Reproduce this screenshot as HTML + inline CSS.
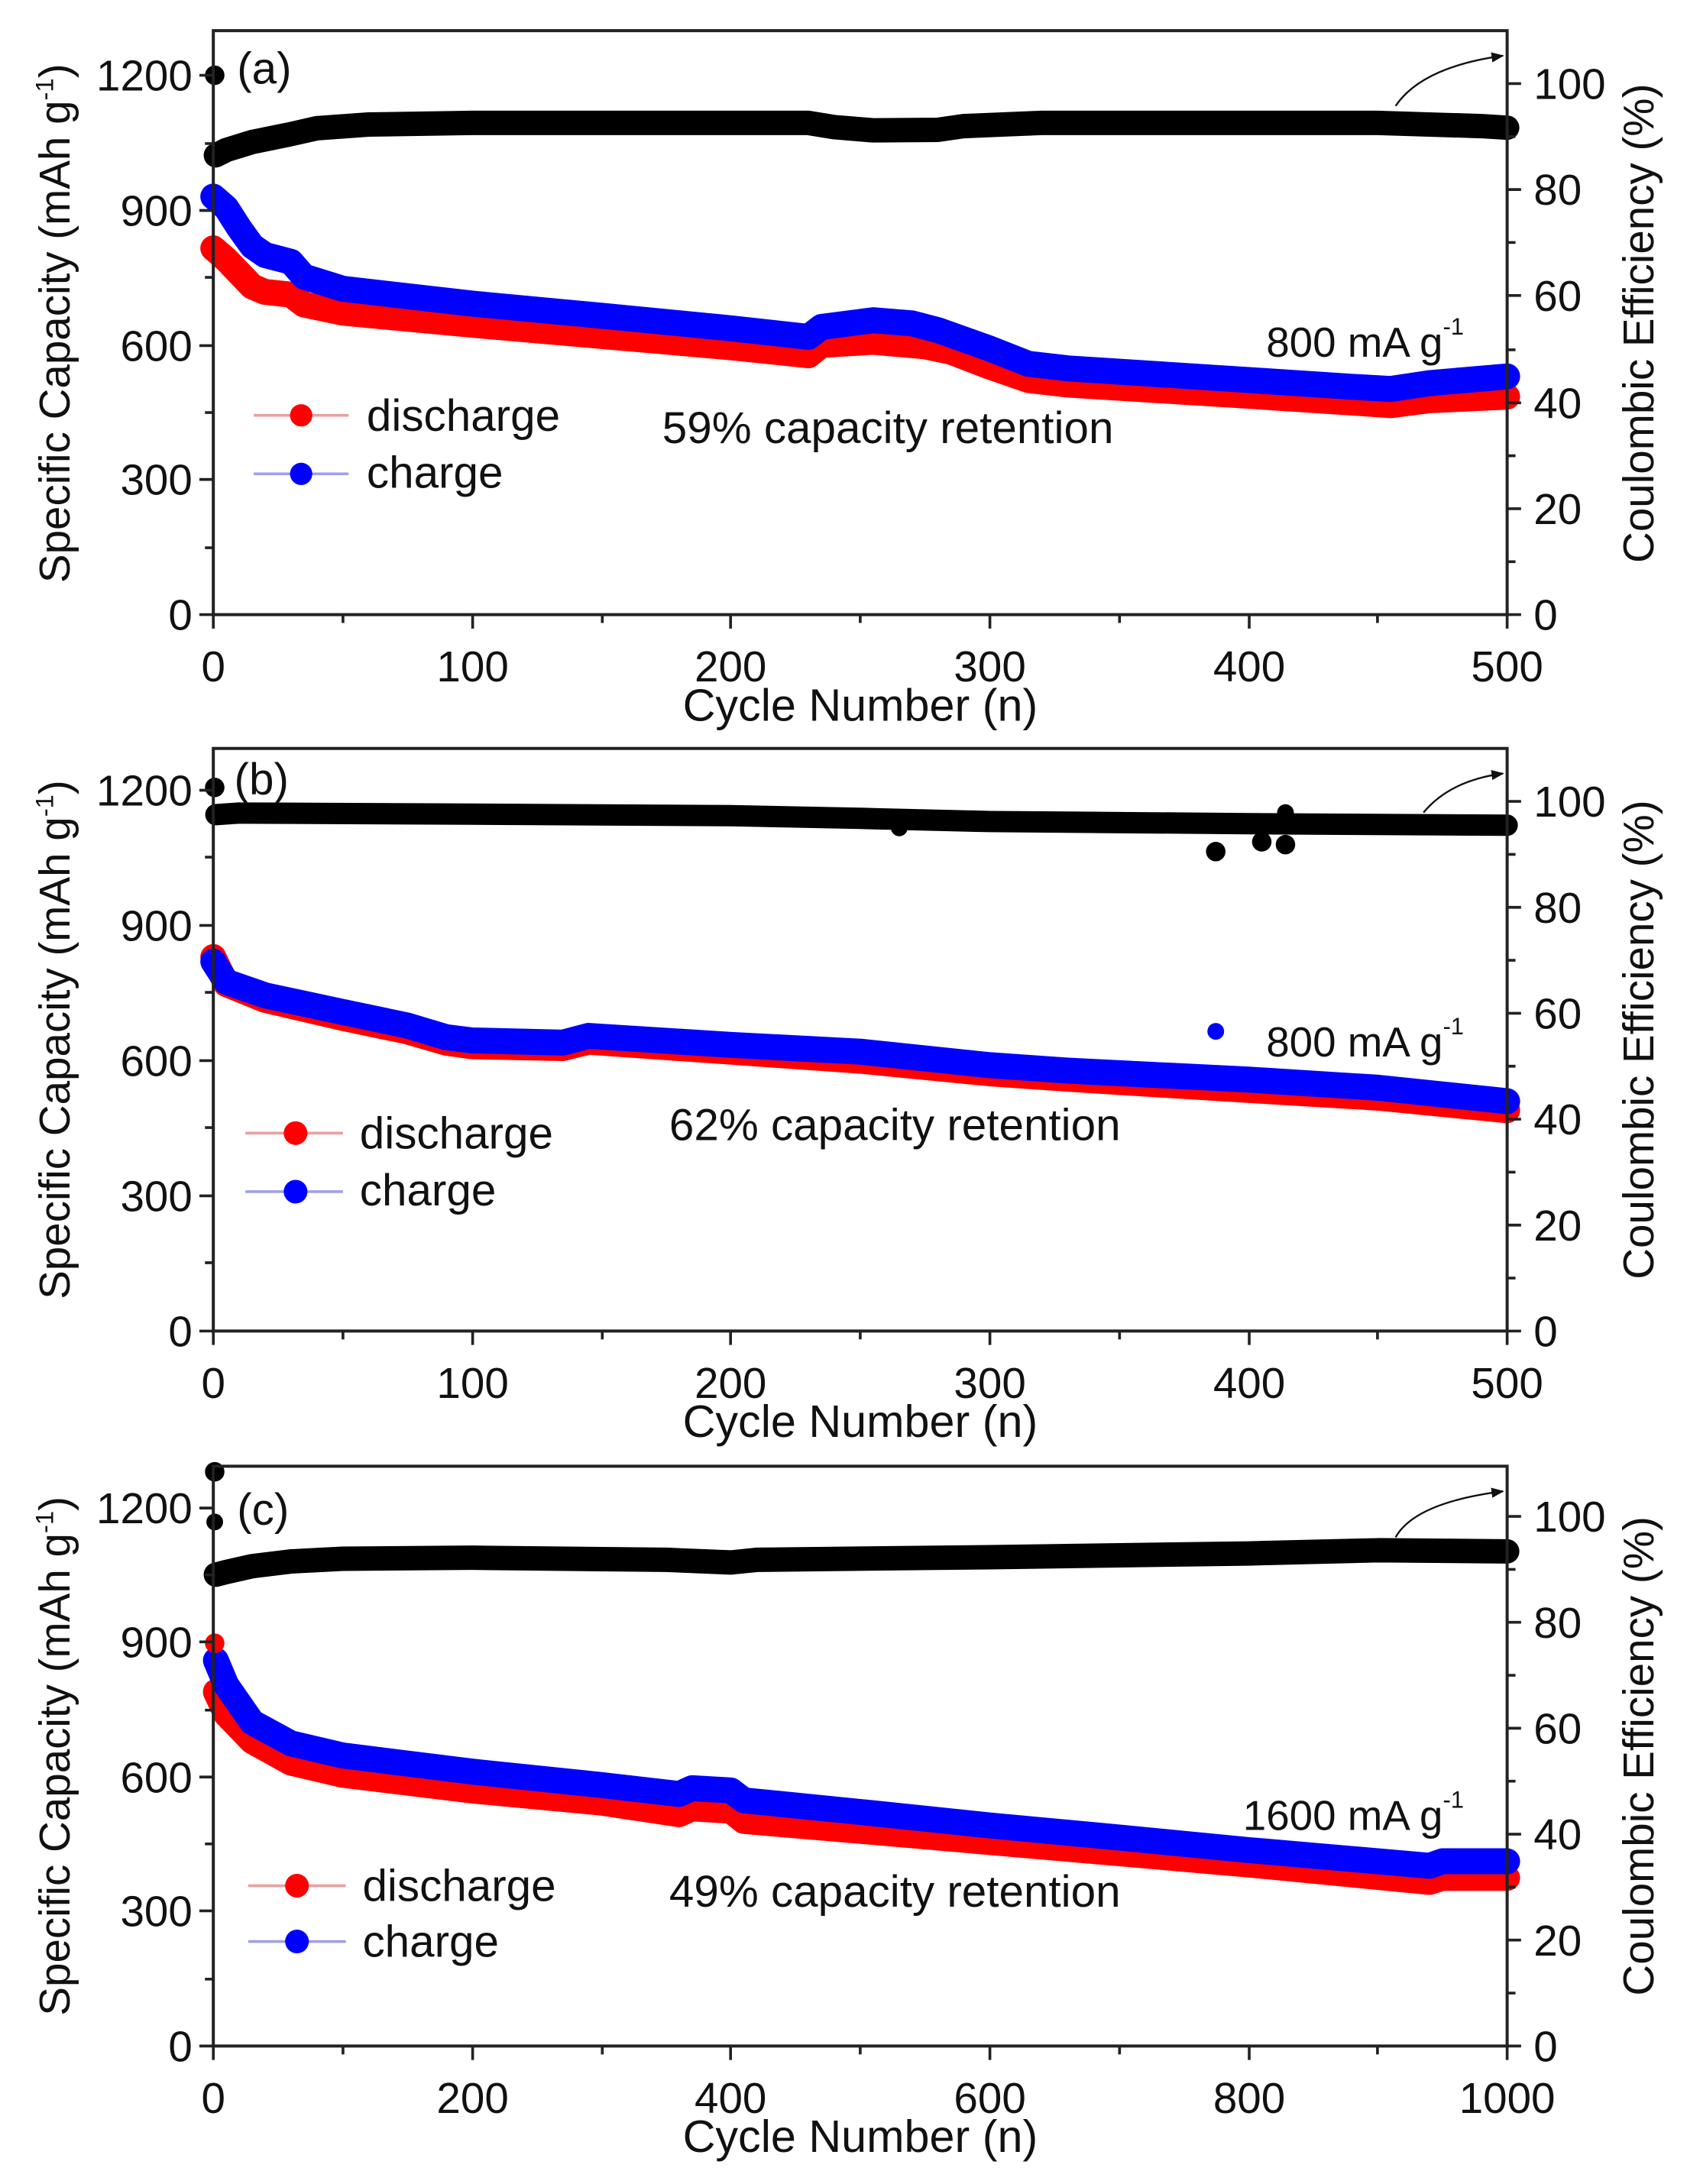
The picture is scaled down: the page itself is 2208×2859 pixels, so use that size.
<!DOCTYPE html>
<html><head><meta charset="utf-8"><style>
html,body{margin:0;padding:0;background:#fff}
svg{display:block}
text{font-family:"Liberation Sans",Arial,sans-serif;fill:#111}
.n{vector-effect:non-scaling-stroke;fill:none;stroke-linejoin:round;stroke-linecap:round}
</style></head><body>
<svg width="2208" height="2859" viewBox="0 0 1210 1567" preserveAspectRatio="none" xmlns="http://www.w3.org/2000/svg">
<defs>
<marker id="ar" viewBox="0 0 10 10" refX="9" refY="5" markerWidth="7" markerHeight="7" orient="auto"><path d="M0,1 L10,5 L0,9 z" fill="#111"/></marker>
</defs>

<!-- ================= PANEL A ================= -->
<g>
<g transform="translate(153,441) scale(1.856,-0.3225)">
<polyline class="n" stroke="#f00" stroke-width="34" points="0,815 5,790 10,760 15,730 20,718 30,712 35,690 50,672 100,645 150,620 200,595 230,577 235,600 255,607 275,597 285,585 300,552 315,522 330,512 400,487 440,472 455,466 470,477 500,485"/>
<polyline class="n" stroke="#00f" stroke-width="34" points="0,930 5,905 10,860 15,820 20,800 30,785 35,752 50,725 100,692 150,665 200,637 230,618 235,640 255,655 270,648 280,633 300,592 315,558 330,548 400,522 440,507 455,502 470,515 500,530"/>
</g>
<g transform="translate(153,441) scale(1.856,-3.81)">
<polyline class="n" stroke="#000" stroke-width="32" points="1,86.5 5,87.5 15,89 30,90.5 40,91.6 60,92.3 100,92.6 230,92.6 240,91.8 255,91.2 280,91.3 290,92 320,92.6 450,92.6 490,92 500,91.7"/>
</g>
<circle cx="154" cy="54" r="7" fill="#000"/>
<rect x="153" y="22" width="928" height="419" fill="none" stroke="#222" stroke-width="2.2"/>
<path d="M1001,76 Q1020,48 1078,40" stroke="#111" stroke-width="1.3" fill="none" marker-end="url(#ar)"/>
<text x="170" y="60" font-size="32">(a)</text>
<line x1="182" y1="298" x2="250" y2="298" stroke="#e8a0a0" stroke-width="2"/><circle cx="216" cy="298" r="8" fill="#f00"/>
<text x="263" y="309" font-size="32">discharge</text>
<line x1="182" y1="340" x2="250" y2="340" stroke="#a0a0e8" stroke-width="2"/><circle cx="216" cy="340" r="8" fill="#00f"/>
<text x="263" y="350" font-size="32">charge</text>
<text x="475" y="318" font-size="32">59% capacity retention</text>
<text x="1050" y="256" font-size="30" text-anchor="end">800 mA g<tspan font-size="17" dy="-16">-1</tspan></text>
</g>

<!-- ================= PANEL B ================= -->
<g>
<g transform="translate(153,955) scale(1.856,-0.3233)">
<polyline class="n" stroke="#f00" stroke-width="34" points="0,830 5,770 20,735 50,695 75,665 90,640 100,632 135,628 145,642 200,620 250,600 300,572 330,560 400,535 450,518 500,490"/>
<polyline class="n" stroke="#00f" stroke-width="34" points="0,820 5,775 20,745 50,708 75,678 90,652 100,645 135,640 145,655 200,635 250,620 300,590 330,578 400,558 450,540 500,510"/>
</g>
<g transform="translate(153,955) scale(1.856,-3.8)">
<polyline class="n" stroke="#000" stroke-width="28" points="1,97.5 10,97.8 100,97.6 200,97.3 250,96.8 300,96.2 400,95.8 500,95.5"/>
</g>
<circle cx="154" cy="565" r="7" fill="#000"/><circle cx="154" cy="585" r="6" fill="#000"/>
<circle cx="645" cy="594" r="6" fill="#000"/><circle cx="872" cy="611" r="7" fill="#000"/>
<circle cx="905" cy="604" r="7" fill="#000"/><circle cx="922" cy="606" r="7" fill="#000"/><circle cx="922" cy="583" r="6" fill="#000"/>
<circle cx="872" cy="740" r="6" fill="#00f"/>
<rect x="153" y="537" width="928" height="418" fill="none" stroke="#222" stroke-width="2.2"/>
<path d="M1021,583 Q1040,560 1078,555" stroke="#111" stroke-width="1.3" fill="none" marker-end="url(#ar)"/>
<text x="168" y="570" font-size="32">(b)</text>
<line x1="176" y1="813" x2="246" y2="813" stroke="#e8a0a0" stroke-width="2"/><circle cx="212" cy="813" r="8.5" fill="#f00"/>
<text x="258" y="824" font-size="32">discharge</text>
<line x1="176" y1="855" x2="246" y2="855" stroke="#a0a0e8" stroke-width="2"/><circle cx="212" cy="855" r="8.5" fill="#00f"/>
<text x="258" y="865" font-size="32">charge</text>
<text x="480" y="818" font-size="32">62% capacity retention</text>
<text x="1050" y="758" font-size="30" text-anchor="end">800 mA g<tspan font-size="17" dy="-16">-1</tspan></text>
</g>

<!-- ================= PANEL C ================= -->
<g>
<g transform="translate(153,1468) scale(0.928,-0.3217)">
<polyline class="n" stroke="#f00" stroke-width="34" points="2,790 10,740 30,680 60,632 100,605 200,570 300,543 360,517 370,530 400,525 410,502 500,480 600,455 700,430 800,405 940,366 950,375 1000,375"/>
<polyline class="n" stroke="#00f" stroke-width="34" points="2,860 10,805 30,722 60,675 100,648 200,612 300,582 360,562 370,575 400,570 410,548 500,522 600,492 700,465 800,437 940,402 950,412 1000,412"/>
</g>
<g transform="translate(153,1468) scale(0.928,-3.8)">
<polyline class="n" stroke="#000" stroke-width="32" points="2,89 10,89.5 30,90.6 60,91.5 100,92 200,92.2 350,91.8 400,91.3 420,91.8 600,92.3 800,93 900,93.6 1000,93.4"/>
</g>
<circle cx="154" cy="1056" r="7" fill="#000"/><circle cx="154" cy="1092" r="6" fill="#000"/>
<circle cx="154" cy="1179" r="7" fill="#f00"/>
<rect x="153" y="1052" width="928" height="416" fill="none" stroke="#222" stroke-width="2.2"/>
<path d="M1001,1103 Q1015,1078 1078,1070" stroke="#111" stroke-width="1.3" fill="none" marker-end="url(#ar)"/>
<text x="170" y="1094" font-size="32">(c)</text>
<line x1="178" y1="1353" x2="248" y2="1353" stroke="#e8a0a0" stroke-width="2"/><circle cx="213" cy="1353" r="8.5" fill="#f00"/>
<text x="260" y="1364" font-size="32">discharge</text>
<line x1="178" y1="1393" x2="248" y2="1393" stroke="#a0a0e8" stroke-width="2"/><circle cx="213" cy="1393" r="8.5" fill="#00f"/>
<text x="260" y="1404" font-size="32">charge</text>
<text x="480" y="1368" font-size="32">49% capacity retention</text>
<text x="1050" y="1313" font-size="30" text-anchor="end">1600 mA g<tspan font-size="17" dy="-16">-1</tspan></text>
</g>

<!-- ================= AXES / TICKS ================= -->
<g stroke="#222" stroke-width="2">
<path d="M153,441v10M339,441v10M524,441v10M710,441v10M896,441v10M1081,441v10 M246,441v6M432,441v6M617,441v6M803,441v6M988,441v6"/>
<path d="M153,441h-10M153,344h-10M153,248h-10M153,151h-10M153,54h-10 M153,393h-6M153,296h-6M153,199h-6M153,103h-6"/>
<path d="M1081,441h10M1081,365h10M1081,289h10M1081,212h10M1081,136h10M1081,60h10 M1081,403h6M1081,327h6M1081,251h6M1081,174h6M1081,98h6"/>
<path d="M153,955v10M339,955v10M524,955v10M710,955v10M896,955v10M1081,955v10 M246,955v6M432,955v6M617,955v6M803,955v6M988,955v6"/>
<path d="M153,955h-10M153,858h-10M153,761h-10M153,664h-10M153,567h-10 M153,906h-6M153,809h-6M153,712h-6M153,615h-6"/>
<path d="M1081,955h10M1081,879h10M1081,803h10M1081,727h10M1081,651h10M1081,575h10 M1081,917h6M1081,841h6M1081,765h6M1081,689h6M1081,613h6"/>
<path d="M153,1468v10M339,1468v10M524,1468v10M710,1468v10M896,1468v10M1081,1468v10 M246,1468v6M432,1468v6M617,1468v6M803,1468v6M988,1468v6"/>
<path d="M153,1468h-10M153,1371h-10M153,1275h-10M153,1178h-10M153,1082h-10 M153,1420h-6M153,1323h-6M153,1227h-6M153,1130h-6"/>
<path d="M1081,1468h10M1081,1392h10M1081,1316h10M1081,1240h10M1081,1164h10M1081,1088h10 M1081,1430h6M1081,1354h6M1081,1278h6M1081,1202h6M1081,1126h6"/>
</g>

<g font-size="31">
<g text-anchor="middle"><text x="153" y="489">0</text><text x="339" y="489">100</text><text x="524" y="489">200</text><text x="710" y="489">300</text><text x="896" y="489">400</text><text x="1081" y="489">500</text></g>
<text x="617" y="517" text-anchor="middle" font-size="32.5">Cycle Number (n)</text>
<g text-anchor="end"><text x="138" y="452">0</text><text x="138" y="355">300</text><text x="138" y="259">600</text><text x="138" y="162">900</text><text x="138" y="65">1200</text></g>
<g><text x="1100" y="452">0</text><text x="1100" y="376">20</text><text x="1100" y="300">40</text><text x="1100" y="223">60</text><text x="1100" y="147">80</text><text x="1100" y="71">100</text></g>
<g text-anchor="middle"><text x="153" y="1003">0</text><text x="339" y="1003">100</text><text x="524" y="1003">200</text><text x="710" y="1003">300</text><text x="896" y="1003">400</text><text x="1081" y="1003">500</text></g>
<text x="617" y="1031" text-anchor="middle" font-size="32.5">Cycle Number (n)</text>
<g text-anchor="end"><text x="138" y="966">0</text><text x="138" y="869">300</text><text x="138" y="772">600</text><text x="138" y="675">900</text><text x="138" y="578">1200</text></g>
<g><text x="1100" y="966">0</text><text x="1100" y="890">20</text><text x="1100" y="814">40</text><text x="1100" y="738">60</text><text x="1100" y="662">80</text><text x="1100" y="586">100</text></g>
<g text-anchor="middle"><text x="153" y="1516">0</text><text x="339" y="1516">200</text><text x="524" y="1516">400</text><text x="710" y="1516">600</text><text x="896" y="1516">800</text><text x="1081" y="1516">1000</text></g>
<text x="617" y="1544" text-anchor="middle" font-size="32.5">Cycle Number (n)</text>
<g text-anchor="end"><text x="138" y="1479">0</text><text x="138" y="1382">300</text><text x="138" y="1286">600</text><text x="138" y="1189">900</text><text x="138" y="1093">1200</text></g>
<g><text x="1100" y="1479">0</text><text x="1100" y="1403">20</text><text x="1100" y="1327">40</text><text x="1100" y="1251">60</text><text x="1100" y="1175">80</text><text x="1100" y="1099">100</text></g>
</g>

<g font-size="31" text-anchor="middle">
<text transform="translate(50,232) rotate(-90)">Specific Capacity (mAh g<tspan font-size="18" dy="-12">-1</tspan><tspan dy="12">)</tspan></text>
<text transform="translate(1186,232) rotate(-90)">Coulombic Efficiency (%)</text>
<text transform="translate(50,746) rotate(-90)">Specific Capacity (mAh g<tspan font-size="18" dy="-12">-1</tspan><tspan dy="12">)</tspan></text>
<text transform="translate(1186,746) rotate(-90)">Coulombic Efficiency (%)</text>
<text transform="translate(50,1260) rotate(-90)">Specific Capacity (mAh g<tspan font-size="18" dy="-12">-1</tspan><tspan dy="12">)</tspan></text>
<text transform="translate(1186,1260) rotate(-90)">Coulombic Efficiency (%)</text>
</g>
</svg>
</body></html>
